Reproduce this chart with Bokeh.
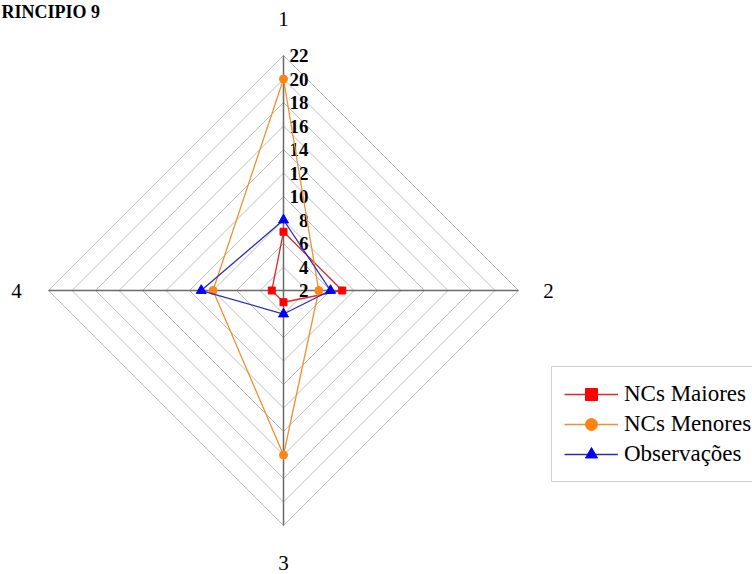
import math
from bokeh.plotting import figure
from bokeh.models import Range1d, Legend, LegendItem
from bokeh.core.properties import value
from bokeh.embed import file_html
from bokeh.resources import INLINE

# ---------------- data ----------------
categories = ["1", "2", "3", "4"]
nc_maiores = [7, 7, 3, 3]
nc_menores = [20, 5, 16, 8]
observacoes = [8, 6, 4, 9]
tick_values = [2, 4, 6, 8, 10, 12, 14, 16, 18, 20, 22]
series_names = ["NCs Maiores", "NCs Menores", "Observações"]
title_text = "RINCIPIO 9"

# ---------------- layout ----------------
W, H = 752, 574
PX = 11.75              # pixels per value unit
CX, CY = 283, 290       # centre of radar in canvas pixels (from left / from top)
axis_min = tick_values[0]
axis_max = tick_values[-1]
SERIF = "Liberation Serif"

p = figure(width=W, height=H, output_backend="svg", toolbar_location=None,
           x_axis_location=None, y_axis_location=None, min_border=0,
           x_range=Range1d(-CX / PX, (W - CX) / PX),
           y_range=Range1d(-(H - CY) / PX, CY / PX))
p.grid.visible = False
p.outline_line_color = None
p.background_fill_color = "white"
p.border_fill_color = "white"

n = len(categories)
angles = [math.pi / 2 - i * 2 * math.pi / n for i in range(n)]


def polar(vals):
    xs = [(v - axis_min) * math.cos(a) for v, a in zip(vals, angles)]
    ys = [(v - axis_min) * math.sin(a) for v, a in zip(vals, angles)]
    return xs, ys


# grid rings
ring_xs, ring_ys = [], []
for t in tick_values[1:]:
    xs, ys = polar([t] * n)
    ring_xs.append(xs + xs[:1])
    ring_ys.append(ys + ys[:1])
p.multi_line(ring_xs, ring_ys, line_color="#BDBDBD", line_width=1)

# spokes
sx, sy = polar([axis_max] * n)
p.multi_line([[0, x] for x in sx], [[0, y] for y in sy],
             line_color="#6A6A6A", line_width=1.5)

# tick labels along axis 1
p.text(x=[25 / PX] * len(tick_values), y=[t - axis_min for t in tick_values],
       text=[str(t) for t in tick_values], text_align="right",
       text_baseline="middle", text_font=value(SERIF), text_font_style="bold",
       text_font_size="19px", text_color="black")

# category labels
lab_off = [37, 30, 37, 32]
lx = [((axis_max - axis_min) + o / PX) * math.cos(a) for o, a in zip(lab_off, angles)]
ly = [((axis_max - axis_min) + o / PX) * math.sin(a) for o, a in zip(lab_off, angles)]
p.text(x=lx, y=ly, text=categories, text_align="center", text_baseline="middle",
       text_font=value(SERIF), text_font_size="21px", text_color="black")

# title at the top-left corner
p.text(x=[-CX / PX + 1 / PX], y=[(CY - 1) / PX], text=[title_text], text_align="left",
       text_baseline="top", text_font=value(SERIF), text_font_style="bold",
       text_font_size="18px", text_color="black")

# series
styles = [
    (nc_maiores, "#E3262E", "#FF0000", "square", 7),
    (nc_menores, "#F0902E", "#FF8414", "circle", 8),
    (observacoes, "#2E2EB4", "#0000F0", "triangle", 10),
]
items = []
for (vals, lc, mc, mk, sz), name in zip(styles, series_names):
    xs, ys = polar(vals)
    lr = p.line(xs + xs[:1], ys + ys[:1], line_color=lc, line_width=1.3)
    sr = p.scatter(xs, ys, marker=mk, size=sz, fill_color=mc, line_color=mc)
    items.append(LegendItem(label=name, renderers=[lr, sr]))

legend = Legend(items=items, location=(551, 92), margin=0, padding=12,
                spacing=0, glyph_width=54, glyph_height=30, label_height=30,
                label_standoff=6, label_text_font=SERIF,
                label_text_font_size="23px", label_text_color="black",
                border_line_color="#A0A0A0", border_line_width=1,
                background_fill_color="white", background_fill_alpha=1)
p.add_layout(legend)

open("out.html", "w").write(file_html(p, INLINE))
